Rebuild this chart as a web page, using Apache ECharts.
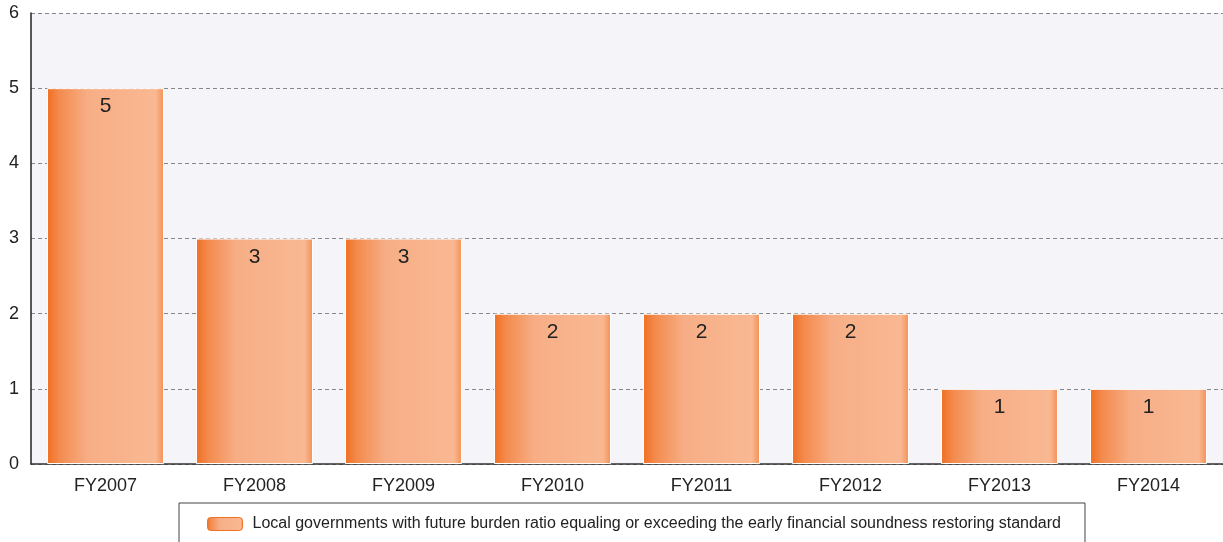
<!DOCTYPE html>
<html>
<head>
<meta charset="utf-8">
<script src="https://cdn.jsdelivr.net/npm/echarts@6/dist/echarts.min.js"></script>
<style>
  html, body { margin: 0; padding: 0; background: #fff; }
  #chart { width: 1223px; height: 542px; }
</style>
</head>
<body>
<div id="chart"></div>
<script>
// Fiscal years and count of local governments per year
const categories = ['FY2007', 'FY2008', 'FY2009', 'FY2010', 'FY2011', 'FY2012', 'FY2013', 'FY2014'];
const counts = [5, 3, 3, 2, 2, 2, 1, 1];
const yTicks = [0, 1, 2, 3, 4, 5, 6];
const seriesName = 'Local governments with future burden ratio equaling or exceeding the early financial soundness restoring standard';

const FONT = '"Liberation Sans", Arial, sans-serif';

const barFill = new echarts.graphic.LinearGradient(0, 0, 1, 0, [
  { offset: 0, color: '#f06e20' },
  { offset: 0.1, color: '#f38a4c' },
  { offset: 0.35, color: '#f7ae86' },
  { offset: 0.93, color: '#f9b892' },
  { offset: 1, color: '#f38f52' }
]);

const chart = echarts.init(document.getElementById('chart'), null, { renderer: 'canvas' });
chart.setOption({
  animation: false,
  textStyle: { fontFamily: FONT },
  grid: {
    left: 31, right: 0, top: 13, bottom: 78,
    show: true, backgroundColor: '#f4f4f9', borderWidth: 0
  },
  legend: {
    left: 179, top: 503,
    padding: [13, 24, 20, 28],
    borderColor: '#444', borderWidth: 1,
    itemWidth: 35, itemHeight: 13, itemGap: 10,
    textStyle: { fontSize: 16, color: '#222', fontFamily: FONT, padding: [0, 0, 0, 5] },
    data: [{ name: seriesName, itemStyle: { color: barFill, borderColor: '#f07224', borderWidth: 1 } }]
  },
  xAxis: {
    type: 'category',
    data: categories,
    axisLine: { lineStyle: { color: '#333', width: 1.5 } },
    axisTick: { inside: true, length: 10, lineStyle: { color: '#333' } },
    axisLabel: { fontSize: 18, color: '#222', margin: 13, fontFamily: FONT }
  },
  yAxis: {
    type: 'value',
    min: yTicks[0], max: yTicks[yTicks.length - 1], interval: 1,
    axisLine: { show: true, lineStyle: { color: '#222', width: 1.5 } },
    axisTick: { show: false },
    axisLabel: { fontSize: 18, color: '#222', margin: 12, fontFamily: FONT },
    splitLine: { lineStyle: { color: '#888', type: [4, 3], width: 1 } }
  },
  series: [{
    name: seriesName,
    type: 'bar',
    data: counts,
    barWidth: '78.5%',
    itemStyle: { color: barFill, borderColor: '#ffffff', borderWidth: 1 },
    label: {
      show: true, position: 'insideTop', distance: 8,
      fontSize: 21, color: '#222', fontFamily: FONT
    }
  }]
});
</script>
</body>
</html>
